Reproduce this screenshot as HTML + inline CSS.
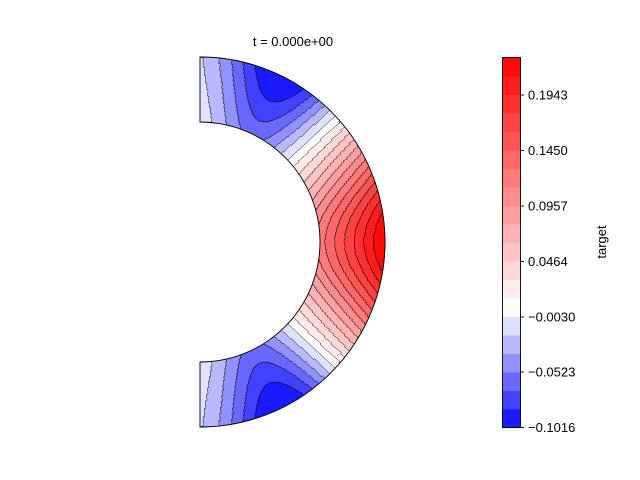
<!DOCTYPE html>
<html><head><meta charset="utf-8"><style>
html,body{margin:0;padding:0;background:#fff;}
svg{display:block;font-family:"Liberation Sans","DejaVu Sans",sans-serif;}
</style></head><body>
<svg id="s" width="640" height="480" viewBox="0 0 640 480" xmlns="http://www.w3.org/2000/svg">
<g id="field"></g>
<g id="lines" stroke="#000" stroke-width="0.5" fill="none"></g>
<path d="M200,57 A185,185 0 0 1 200,427 L200,362 A120,120 0 0 0 200,122 Z" fill="none" stroke="#000" stroke-width="0.9"/>
<text x="293" y="46" font-size="13" text-anchor="middle">t = 0.000e+00</text>
<g id="cb"></g>
<rect x="502.5" y="57.5" width="18" height="370" fill="none" stroke="#000" stroke-width="0.9"/>
<g font-size="13" id="ticks"></g>
<text transform="translate(606,242) rotate(-90)" font-size="13" text-anchor="middle">target</text>
</svg>
<script>
function col(k){
 if(k<0)k=0;if(k>19)k=19;
 if(k<6){var c=0.1+0.78*k/5;var v=Math.round(255*c);return "rgb("+v+","+v+",255)";}
 if(k==6)return "rgb(252,252,252)";
 var j=k-7;var c=0.92-0.88*j/12;var v=Math.round(255*c);return "rgb(255,"+v+","+v+")";
}
var L0=-0.1016,dL=0.01644;
function band(f){return Math.max(0,Math.min(19,Math.floor((f-L0)/dL)));}
var cx=200,cy=242,ro=185,ri=120;
function f(r,t){
 var x=(r-ri)/(ro-ri);var d=t*180/Math.PI;
 var E=Math.exp(-Math.pow((d-90)/32,2));
 var B=Math.exp(-Math.pow((d-27)/20,2))+Math.exp(-Math.pow((d-153)/20,2));
 return (0.12+0.11*x)*E-(0.06+0.05*x)*B;
}
var NR=70,NT=360,html="",lines="";
var bs=[];
for(var i=0;i<NR;i++){bs[i]=[];for(var j=0;j<NT;j++){
 var r=ri+(i+0.5)*(ro-ri)/NR,t=(j+0.5)*Math.PI/NT;bs[i][j]=band(f(r,t));}}
function P(r,t){return (cx+r*Math.sin(t)).toFixed(1)+","+(cy-r*Math.cos(t)).toFixed(1);}
for(var i=0;i<NR;i++)for(var j=0;j<NT;j++){
 var r0=ri+i*(ro-ri)/NR,r1=ri+(i+1)*(ro-ri)/NR,t0=j*Math.PI/NT,t1=(j+1)*Math.PI/NT;
 var te=t1+0.003;var re=r1+0.3;
 html+='<polygon points="'+P(r0,t0)+' '+P(re,t0)+' '+P(re,te)+' '+P(r0,te)+'" fill="'+col(bs[i][j])+'"/>';
 if(i<NR-1&&bs[i+1][j]!=bs[i][j])lines+='M'+P(r1,t0)+'L'+P(r1,t1);
 if(j<NT-1&&bs[i][j+1]!=bs[i][j])lines+='M'+P(r0,t1)+'L'+P(r1,t1);
}
document.getElementById("field").innerHTML=html;
document.getElementById("lines").innerHTML='<path d="'+lines+'"/>';
var cb="";var h=370/20;
for(var k=0;k<20;k++){cb+='<rect x="502.5" y="'+(427.5-(k+1)*h).toFixed(2)+'" width="18" height="'+(h+0.4).toFixed(2)+'" fill="'+col(k)+'"/>';}
document.getElementById("cb").innerHTML=cb;
var tk=[["\u22120.1016",427.5],["\u22120.0523",372],["\u22120.0030",317],["0.0464",261.5],["0.0957",206],["0.1450",150.5],["0.1943",95]];
var ts="";tk.forEach(function(a){ts+='<line x1="520.5" x2="524" y1="'+a[1]+'" y2="'+a[1]+'" stroke="#000" stroke-width="0.9"/><text x="528" y="'+(a[1]+4.5)+'">'+a[0]+'</text>';});
document.getElementById("ticks").innerHTML=ts;
</script>
</body></html>
